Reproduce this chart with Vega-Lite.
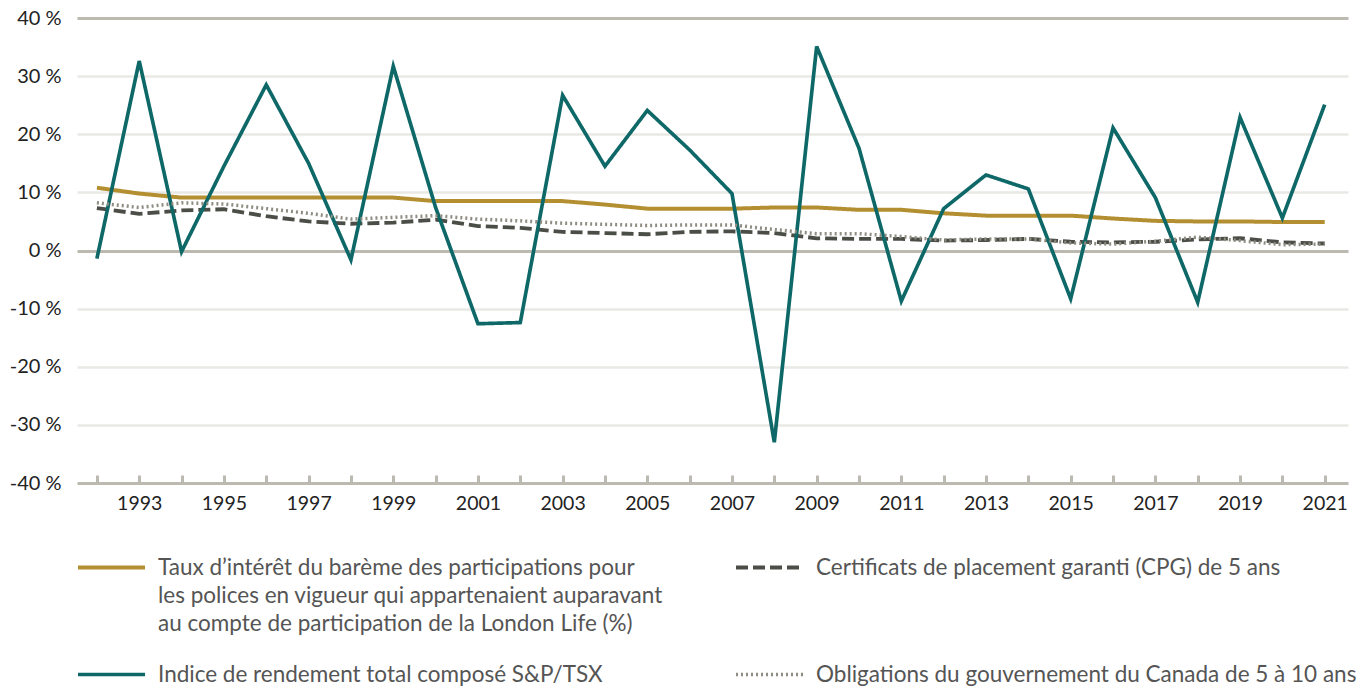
{
  "$schema": "https://vega.github.io/schema/vega-lite/v6.json",
  "width": 1271,
  "height": 465,
  "autosize": {"type": "none"},
  "padding": {"left": 77, "top": 18, "right": 10, "bottom": 204},
  "config": {"view": {"stroke": null}, "font": "Lato", "style": {"guide-label": {"lineHeight": 28}}},
  "data": {
    "values": [
      {"year": 1992, "taux": 10.8, "cpg": 7.3, "tsx": -1.4, "oblig": 8.2},
      {"year": 1993, "taux": 9.8, "cpg": 6.3, "tsx": 32.6, "oblig": 7.4},
      {"year": 1994, "taux": 9.1, "cpg": 6.9, "tsx": -0.2, "oblig": 8.2},
      {"year": 1995, "taux": 9.1, "cpg": 7.1, "tsx": 14.5, "oblig": 8.0},
      {"year": 1996, "taux": 9.1, "cpg": 5.9, "tsx": 28.5, "oblig": 7.2},
      {"year": 1997, "taux": 9.1, "cpg": 5.0, "tsx": 15.0, "oblig": 6.4},
      {"year": 1998, "taux": 9.1, "cpg": 4.6, "tsx": -1.6, "oblig": 5.4},
      {"year": 1999, "taux": 9.1, "cpg": 4.8, "tsx": 31.7, "oblig": 5.7},
      {"year": 2000, "taux": 8.5, "cpg": 5.3, "tsx": 7.4, "oblig": 6.0},
      {"year": 2001, "taux": 8.5, "cpg": 4.2, "tsx": -12.6, "oblig": 5.4},
      {"year": 2002, "taux": 8.5, "cpg": 3.9, "tsx": -12.4, "oblig": 5.1},
      {"year": 2003, "taux": 8.5, "cpg": 3.2, "tsx": 26.7, "oblig": 4.7},
      {"year": 2004, "taux": 7.9, "cpg": 3.0, "tsx": 14.5, "oblig": 4.5},
      {"year": 2005, "taux": 7.2, "cpg": 2.8, "tsx": 24.1, "oblig": 4.3},
      {"year": 2006, "taux": 7.2, "cpg": 3.2, "tsx": 17.3, "oblig": 4.4},
      {"year": 2007, "taux": 7.2, "cpg": 3.3, "tsx": 9.8, "oblig": 4.4},
      {"year": 2008, "taux": 7.4, "cpg": 3.0, "tsx": -33.0, "oblig": 3.6},
      {"year": 2009, "taux": 7.4, "cpg": 2.1, "tsx": 35.1, "oblig": 2.9},
      {"year": 2010, "taux": 7.0, "cpg": 2.0, "tsx": 17.6, "oblig": 2.9},
      {"year": 2011, "taux": 7.0, "cpg": 2.0, "tsx": -8.7, "oblig": 2.4},
      {"year": 2012, "taux": 6.4, "cpg": 1.7, "tsx": 7.2, "oblig": 1.8},
      {"year": 2013, "taux": 6.0, "cpg": 1.8, "tsx": 13.0, "oblig": 2.0},
      {"year": 2014, "taux": 6.0, "cpg": 2.0, "tsx": 10.6, "oblig": 2.0},
      {"year": 2015, "taux": 6.0, "cpg": 1.5, "tsx": -8.3, "oblig": 1.3},
      {"year": 2016, "taux": 5.5, "cpg": 1.4, "tsx": 21.1, "oblig": 1.1},
      {"year": 2017, "taux": 5.1, "cpg": 1.5, "tsx": 9.1, "oblig": 1.6},
      {"year": 2018, "taux": 5.0, "cpg": 1.9, "tsx": -8.9, "oblig": 2.3},
      {"year": 2019, "taux": 5.0, "cpg": 2.1, "tsx": 22.9, "oblig": 1.7},
      {"year": 2020, "taux": 4.9, "cpg": 1.4, "tsx": 5.6, "oblig": 1.0},
      {"year": 2021, "taux": 4.9, "cpg": 1.2, "tsx": 25.1, "oblig": 1.1}
    ]
  },
  "transform": [{"fold": ["taux", "cpg", "tsx", "oblig"], "as": ["serie", "valeur"]}],
  "mark": {"type": "line", "strokeJoin": "miter"},
  "encoding": {
    "x": {
      "field": "year",
      "type": "quantitative",
      "scale": {"domain": [1991.53, 2021.55], "nice": false, "zero": false},
      "axis": {
        "title": null,
        "grid": false,
        "domain": false,
        "values": [1992,1993,1994,1995,1996,1997,1998,1999,2000,2001,2002,2003,2004,2005,2006,2007,2008,2009,2010,2011,2012,2013,2014,2015,2016,2017,2018,2019,2020,2021],
        "labelExpr": "datum.value % 2 == 1 ? '' + datum.value : ''",
        "tickColor": "#bcb9b0",
        "tickWidth": 3,
        "tickSize": -8,
        "labelFontSize": 19.5,
        "labelColor": "#222222",
        "labelPadding": 19,
        "labelFlush": false,
        "labelOverlap": false
      }
    },
    "y": {
      "field": "valeur",
      "type": "quantitative",
      "scale": {"domain": [-40, 40], "nice": false},
      "axis": {
        "title": null,
        "domain": false,
        "ticks": false,
        "values": [-40, -30, -20, -10, 0, 10, 20, 30, 40],
        "labelExpr": "datum.value + ' %'",
        "labelFontSize": 20,
        "labelColor": "#222222",
        "labelPadding": 16,
        "gridColor": {"condition": {"test": "datum.value % 40 == 0", "value": "#bcb9b0"}, "value": "#e9e8e4"},
        "gridWidth": {"condition": {"test": "datum.value % 40 == 0", "value": 3}, "value": 2.5}
      }
    },
    "color": {
      "field": "serie",
      "type": "nominal",
      "scale": {"domain": ["taux", "cpg", "tsx", "oblig"], "range": ["#b48f31", "#4b4d47", "#0e6867", "#8f8d82"]},
      "legend": {
        "title": null,
        "orient": "none",
        "legendX": -1,
        "legendY": 514,
        "direction": "horizontal",
        "columns": 2,
        "columnPadding": 64,
        "rowPadding": 4,
        "symbolType": "stroke",
        "symbolSize": 4489,
        "labelOffset": 11,
        "labelFontSize": 22.5,
        "labelColor": "#555555",
        "labelLimit": 700,
        "labelBaseline": "middle",
        "labelExpr": "datum.label == 'taux' ? ['Taux d’intérêt du barème des participations pour', 'les polices en vigueur qui appartenaient auparavant', 'au compte de participation de la London Life (%)'] : datum.label == 'cpg' ? ['Certificats de placement garanti (CPG) de 5 ans', '', ''] : datum.label == 'tsx' ? 'Indice de rendement total composé S&P/TSX' : 'Obligations du gouvernement du Canada de 5 à 10 ans'"
      }
    },
    "strokeDash": {
      "field": "serie",
      "type": "nominal",
      "scale": {"domain": ["taux", "cpg", "tsx", "oblig"], "range": [[1, 0], [12, 5], [1, 0], [2, 3]]}
    },
    "strokeWidth": {
      "field": "serie",
      "type": "nominal",
      "scale": {"domain": ["taux", "cpg", "tsx", "oblig"], "range": [4, 3.5, 3, 3]}
    }
  }
}
